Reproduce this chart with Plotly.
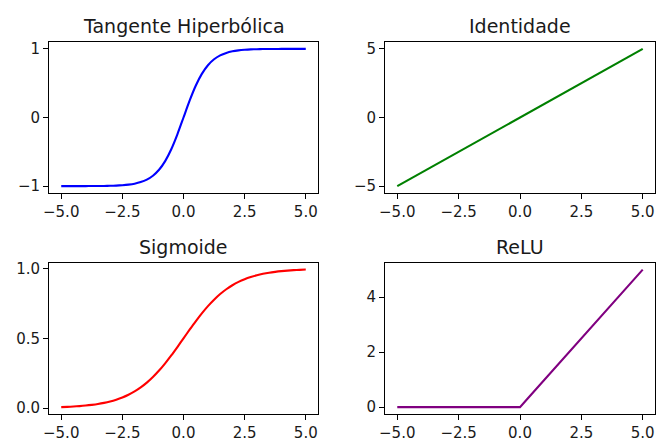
import plotly.graph_objects as go

# x values (step 0.25)
x_vals = [-5.0, -4.75, -4.5, -4.25, -4.0, -3.75, -3.5, -3.25, -3.0, -2.75, -2.5, -2.25, -2.0, -1.75,
          -1.5, -1.25, -1.0, -0.75, -0.5, -0.25, 0.0, 0.25, 0.5, 0.75, 1.0, 1.25, 1.5, 1.75, 2.0,
          2.25, 2.5, 2.75, 3.0, 3.25, 3.5, 3.75, 4.0, 4.25, 4.5, 4.75, 5.0]

tanh_vals = [-0.9999, -0.9999, -0.9998, -0.9996, -0.9993, -0.9989, -0.9982, -0.9970, -0.9951, -0.9919,
             -0.9866, -0.9780, -0.9640, -0.9414, -0.9051, -0.8483, -0.7616, -0.6351, -0.4621, -0.2449,
             0.0, 0.2449, 0.4621, 0.6351, 0.7616, 0.8483, 0.9051, 0.9414, 0.9640, 0.9780, 0.9866,
             0.9919, 0.9951, 0.9970, 0.9982, 0.9989, 0.9993, 0.9996, 0.9998, 0.9999, 0.9999]

ident_vals = [-5.0, -4.75, -4.5, -4.25, -4.0, -3.75, -3.5, -3.25, -3.0, -2.75, -2.5, -2.25, -2.0, -1.75,
              -1.5, -1.25, -1.0, -0.75, -0.5, -0.25, 0.0, 0.25, 0.5, 0.75, 1.0, 1.25, 1.5, 1.75, 2.0,
              2.25, 2.5, 2.75, 3.0, 3.25, 3.5, 3.75, 4.0, 4.25, 4.5, 4.75, 5.0]

sigm_vals = [0.0067, 0.0086, 0.0110, 0.0141, 0.0180, 0.0230, 0.0293, 0.0373, 0.0474, 0.0601, 0.0759,
             0.0953, 0.1192, 0.1480, 0.1824, 0.2227, 0.2689, 0.3208, 0.3775, 0.4378, 0.5, 0.5622,
             0.6225, 0.6792, 0.7311, 0.7773, 0.8176, 0.8520, 0.8808, 0.9047, 0.9241, 0.9399, 0.9526,
             0.9627, 0.9707, 0.9770, 0.9820, 0.9859, 0.9890, 0.9914, 0.9933]

relu_vals = [0.0, 0.0, 0.0, 0.0, 0.0, 0.0, 0.0, 0.0, 0.0, 0.0, 0.0, 0.0, 0.0, 0.0, 0.0, 0.0, 0.0, 0.0,
             0.0, 0.0, 0.0, 0.25, 0.5, 0.75, 1.0, 1.25, 1.5, 1.75, 2.0, 2.25, 2.5, 2.75, 3.0, 3.25, 3.5,
             3.75, 4.0, 4.25, 4.5, 4.75, 5.0]

titles = ["Tangente Hiperbólica", "Identidade", "Sigmoide", "ReLU"]
colors = ["#0000ff", "#008000", "#ff0000", "#800080"]
shapes = ["spline", "linear", "spline", "linear"]
x_ticks = [-5.0, -2.5, 0.0, 2.5, 5.0]
y_ticks = [[-1, 0, 1], [-5, 0, 5], [0.0, 0.5, 1.0], [0, 2, 4]]
y_ranges = [[-1.1, 1.1], [-5.5, 5.5], [-0.0426, 1.0426], [-0.25, 5.25]]
y_formats = ["d", "d", ".1f", "d"]

W, H = 656, 439
x_domains = [[49 / W, 318 / W], [385 / W, 655 / W], [49 / W, 318 / W], [385 / W, 655 / W]]
y_domains = [[1 - 193 / H, 1 - 42 / H], [1 - 193 / H, 1 - 42 / H],
             [1 - 414 / H, 1 - 262.7 / H], [1 - 414 / H, 1 - 262.7 / H]]

series = [tanh_vals, ident_vals, sigm_vals, relu_vals]

fig = go.Figure()
font = dict(family="DejaVu Sans", size=15, color="#1a1a1a")
annotations = []
for i in range(4):
    sfx = "" if i == 0 else str(i + 1)
    fig.add_trace(go.Scatter(x=x_vals, y=series[i], mode="lines",
                             line=dict(color=colors[i], width=2.1, shape=shapes[i], smoothing=0.6),
                             xaxis="x" + sfx, yaxis="y" + sfx, showlegend=False))
    axcommon = dict(showgrid=False, zeroline=False, showline=True, mirror=True,
                    linecolor="#000000", linewidth=1, ticks="outside", ticklen=5,
                    tickwidth=1, tickcolor="#000000", tickfont=font, automargin=False)
    fig.layout["xaxis" + sfx] = dict(domain=x_domains[i], range=[-5.5, 5.5],
                                     tickvals=x_ticks, tickformat=".1f",
                                     anchor="y" + sfx, **axcommon)
    fig.layout["yaxis" + sfx] = dict(domain=y_domains[i], range=y_ranges[i],
                                     tickvals=y_ticks[i], tickformat=y_formats[i],
                                     anchor="x" + sfx, **axcommon)
    annotations.append(dict(text=titles[i], x=sum(x_domains[i]) / 2, y=y_domains[i][1],
                            xref="paper", yref="paper", xanchor="center", yanchor="bottom",
                            yshift=3, showarrow=False,
                            font=dict(family="DejaVu Sans", size=19, color="#1a1a1a")))

fig.update_layout(width=W, height=H, margin=dict(l=0, r=0, t=0, b=0, pad=0),
                  paper_bgcolor="white", plot_bgcolor="white", annotations=annotations)

fig.write_html("out.html", config={"displayModeBar": False, "staticPlot": True})

# remove the default page margin so the figure sits at the window's top-left corner
with open("out.html", "r", encoding="utf-8") as f:
    html = f.read()
html = html.replace("<head>", "<head><style>html,body{margin:0;padding:0;overflow:hidden;}</style>", 1)
with open("out.html", "w", encoding="utf-8") as f:
    f.write(html)
